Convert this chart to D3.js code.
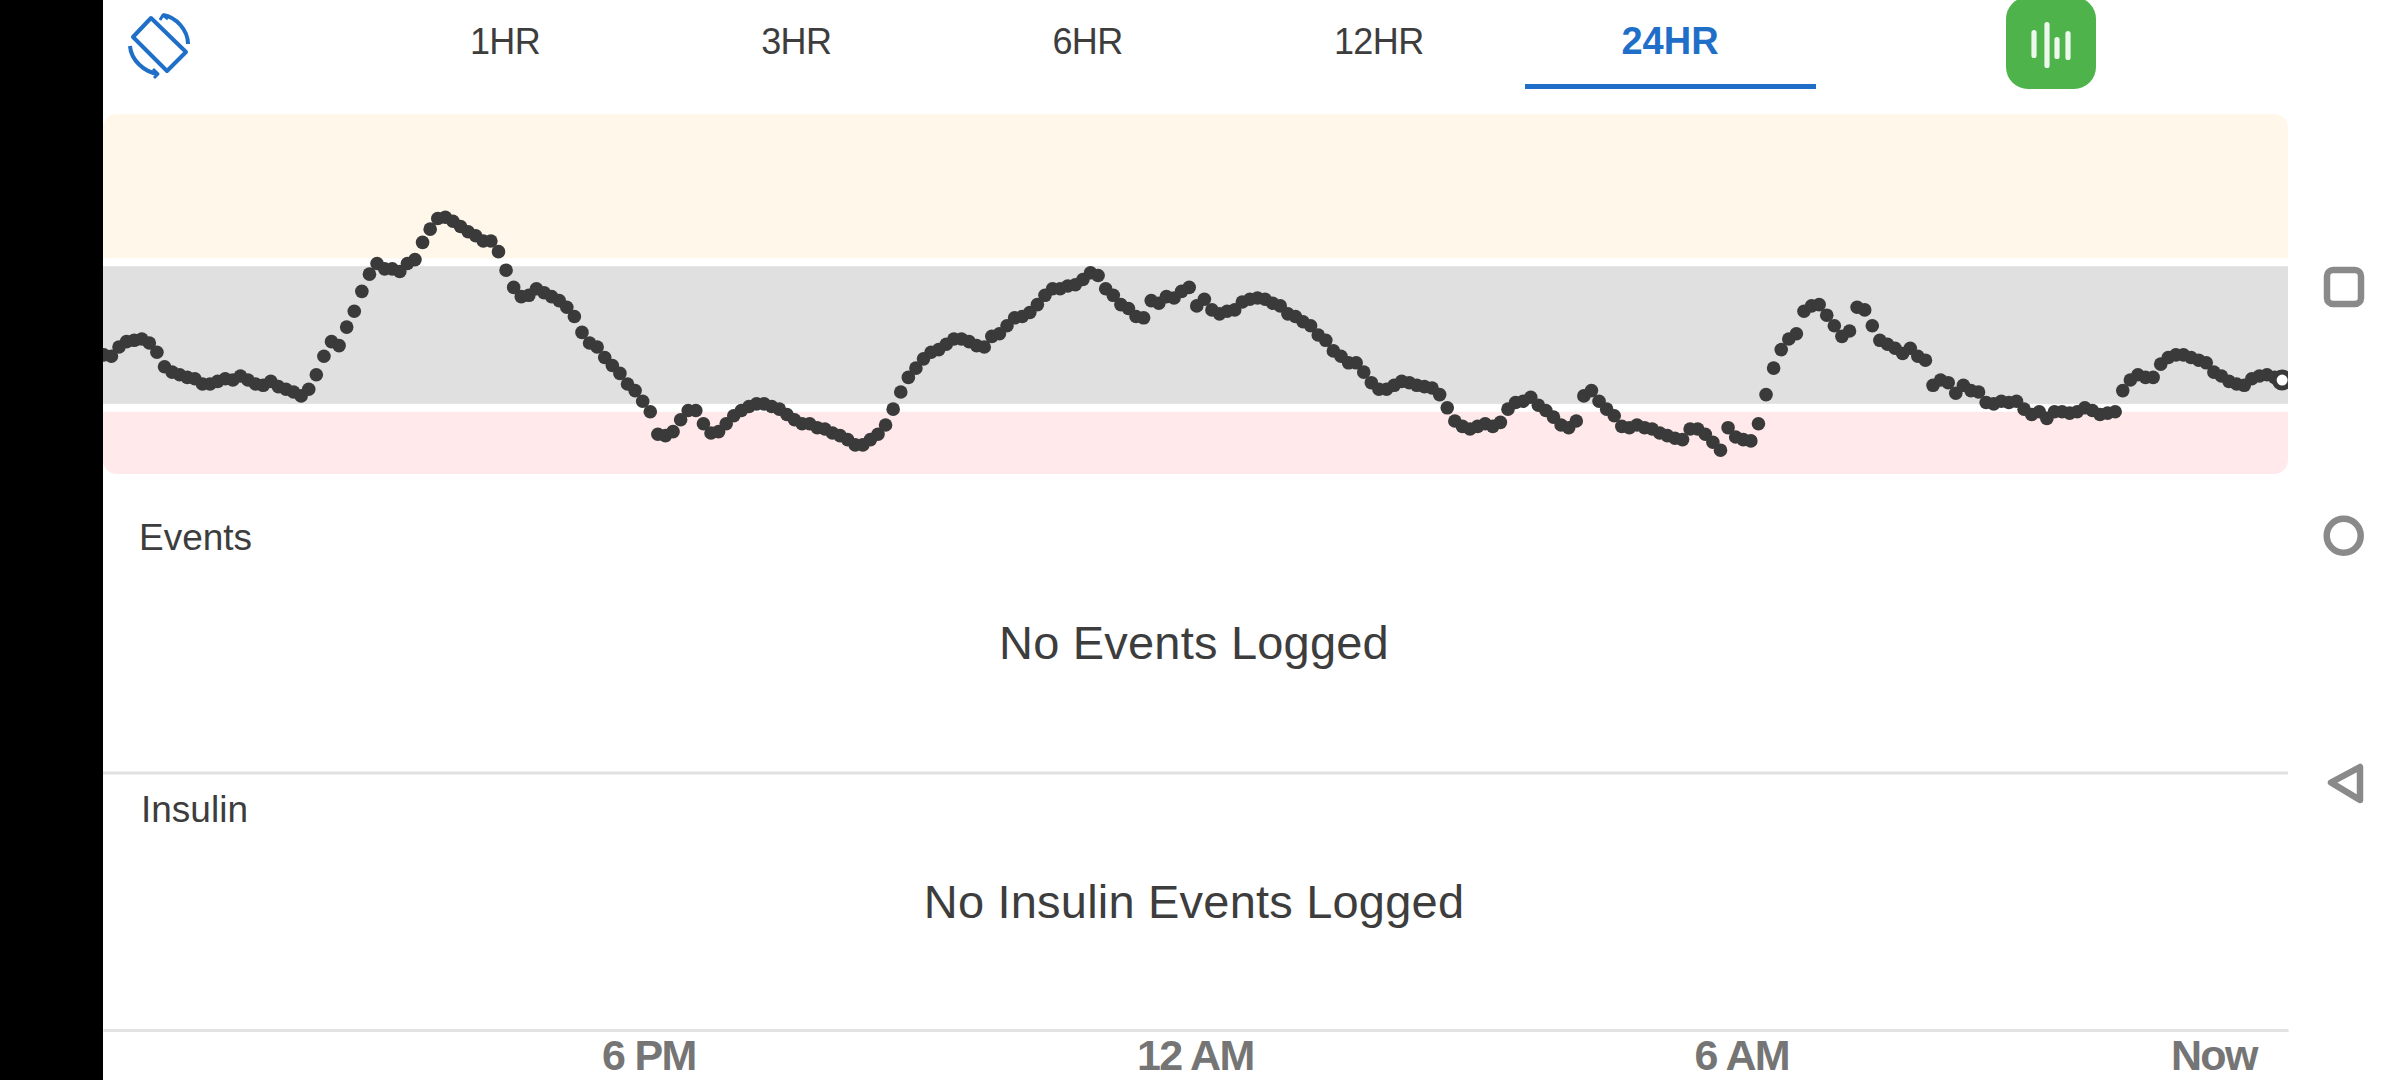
<!DOCTYPE html>
<html lang="en">
  <head>
    <meta charset="utf-8">
    <script src="https://cdn.jsdelivr.net/npm/d3@7"></script>
    <style>
      html, body { margin:0; padding:0; background:#fff; overflow:hidden; }
      text { font-family:"Liberation Sans", Arial, sans-serif; }
    </style>
  </head>
  <body>
    <svg class="chart"></svg>
  </body>
  <script>
    // one reading every 5 minutes, oldest first (mg/dL)
    var glucose = [
      110,109,116,120,121,122,119,112,101,97,95,93,92,88,88,90,92,91,94,91,88,87,90,86,
      84,82,79,84,95,109,120,117,131,143,158,171,179,175,175,173,179,182,195,205,213,214,211,207,
      203,200,196,196,188,174,161,154,155,160,157,154,151,146,139,127,119,116,108,102,96,88,83,75,
      67,50,49,52,61,68,68,58,51,52,58,64,68,71,73,73,71,69,65,61,58,58,55,54,
      51,49,46,42,42,46,50,57,69,82,93,100,107,112,114,118,122,122,120,117,116,124,126,132,
      138,139,142,148,155,160,160,162,163,167,172,170,160,155,148,145,139,138,151,149,154,153,158,161,
      147,152,144,141,143,144,150,152,153,152,149,147,141,139,135,132,125,121,113,109,104,104,97,89,
      84,84,87,90,89,87,86,85,80,70,60,56,54,56,58,56,59,69,74,75,78,72,68,63,
      57,55,60,79,83,75,69,64,56,55,57,55,54,51,49,47,46,54,54,50,44,38,55,48,
      46,45,58,80,100,114,122,126,143,147,148,140,132,124,128,146,144,132,121,118,115,111,115,109,
      106,87,91,89,81,87,83,82,74,73,75,74,75,69,65,67,62,67,67,66,67,70,68,65,
      66,67,83,91,95,93,93,103,108,110,110,108,106,104,97,94,90,88,87,92,94,95,93,91
    ];

    var tabLabels = ['1HR','3HR','6HR','12HR','24HR'];
    var activeTab = '24HR';
    var tickIndex = [72,144,216,287];
    var tickLabels = ['6 PM','12 AM','6 AM','Now'];
    var rangeBands = [[292,183,'#fff7e9'],[177,73,'#e0e0e0'],[67,20,'#ffe9ea']];
    var sections = [
      {title:'Events', empty:'No Events Logged'},
      {title:'Insulin', empty:'No Insulin Events Logged'}
    ];

    var dark = '#3d3d3d', blue = '#1f6fc8', gray = '#8a8a8a';
    var left = 103, right = 2288;

    var svg = d3.select('.chart')
                .attr('width',2400)
                .attr('height',1080)
                .style('display','block');

    var xScale = d3.scaleLinear()
                   .domain([-0.105,287.77])
                   .range([left,right]);

    var yScale = d3.scaleLinear()
                   .domain([20,292])
                   .range([474,114]);

    // black strip on the left of the screenshot
    svg.append('rect').attr('x',0).attr('y',0).attr('width',left).attr('height',1080).attr('fill','#000');

    // range bands, outer corners rounded
    var r = 14;
    svg.append('clipPath').attr('id','plotClip')
       .append('rect').attr('x',left).attr('y',yScale(292)).attr('width',right-left).attr('height',yScale(20)-yScale(292)).attr('rx',r);

    var plot = svg.append('g').attr('clip-path','url(#plotClip)');

    plot.selectAll('rect.band')
        .data(rangeBands)
        .enter()
        .append('rect')
        .classed('band',true)
        .attr('x',left)
        .attr('width',right-left)
        .attr('y',function(d){return yScale(d[0])})
        .attr('height',function(d){return yScale(d[1])-yScale(d[0])})
        .attr('fill',function(d){return d[2]});

    plot.selectAll('circle.reading')
        .data(glucose)
        .enter()
        .append('circle')
        .classed('reading',true)
        .attr('cx',function(d,i){return xScale(i)})
        .attr('cy',function(d){return yScale(d)})
        .attr('r',6.8)
        .attr('fill','#3a3a3a');

    // latest reading is a hollow dot
    plot.append('circle')
        .attr('cx',xScale(glucose.length-1))
        .attr('cy',yScale(glucose[glucose.length-1]))
        .attr('r',8)
        .attr('fill','#fff')
        .attr('stroke','#3a3a3a')
        .attr('stroke-width',5);

    // tabs
    var tabScale = d3.scalePoint().domain(tabLabels).range([505,1670]);

    svg.selectAll('text.tab')
       .data(tabLabels)
       .enter()
       .append('text')
       .classed('tab',true)
       .attr('x',function(d){return tabScale(d)})
       .attr('y',54)
       .attr('text-anchor','middle')
       .attr('font-size',function(d){return d==activeTab?38:36})
       .attr('font-weight',function(d){return d==activeTab?700:400})
       .attr('letter-spacing',function(d){return d==activeTab?0:-0.6})
       .attr('fill',function(d){return d==activeTab?blue:dark})
       .text(function(d){return d});

    svg.append('rect').attr('x',1525).attr('y',84).attr('width',291).attr('height',5).attr('fill',blue);

    // rotate icon
    var rotate = svg.append('g').attr('fill','none').attr('stroke',blue).attr('stroke-width',4).attr('stroke-linejoin','round');
    rotate.append('path').attr('d','M151 18 L186 52 L167 71 L133 37 Z');
    rotate.append('path').attr('d','M163 15 C176 17 188 30 188 44');
    rotate.append('path').attr('d','M130 46 C131 60 144 72 158 74');
    rotate.append('path').attr('d','M160 20 L163 15 L168 19').attr('stroke-width',3);
    rotate.append('path').attr('d','M153 69 L158 74 L154 78').attr('stroke-width',3);

    // green button
    svg.append('rect').attr('x',2006).attr('y',-3).attr('width',90).attr('height',92).attr('rx',22).attr('fill','#4db34a');
    var soundBars = [[2034,30,58],[2047,22,68],[2057,37,59],[2068,31,60]];
    svg.selectAll('rect.soundBar')
       .data(soundBars)
       .enter()
       .append('rect')
       .classed('soundBar',true)
       .attr('x',function(d){return d[0]-2.6})
       .attr('y',function(d){return d[1]})
       .attr('width',5.2)
       .attr('height',function(d){return d[2]-d[1]})
       .attr('rx',2.6)
       .attr('fill','#fff')
       .attr('fill-opacity',0.9);

    // events and insulin sections
    var sectionTop = [550,822];
    var sectionMid = [659,918];
    var sectionLeft = [139,141];

    svg.selectAll('text.sectionTitle')
       .data(sections)
       .enter()
       .append('text')
       .classed('sectionTitle',true)
       .attr('x',function(d,i){return sectionLeft[i]})
       .attr('y',function(d,i){return sectionTop[i]})
       .attr('font-size',37)
       .attr('fill',dark)
       .text(function(d){return d.title});

    svg.selectAll('text.sectionEmpty')
       .data(sections)
       .enter()
       .append('text')
       .classed('sectionEmpty',true)
       .attr('x',1194)
       .attr('y',function(d,i){return sectionMid[i]})
       .attr('text-anchor','middle')
       .attr('font-size',47)
       .attr('letter-spacing',0.2)
       .attr('fill',dark)
       .text(function(d){return d.empty});

    svg.append('line').attr('x1',left).attr('x2',right).attr('y1',773).attr('y2',773).attr('stroke','#e0e0e0').attr('stroke-width',3);

    // time axis
    var xAxis = d3.axisBottom(xScale)
                  .tickValues(tickIndex)
                  .tickSize(0)
                  .tickFormat(function(d,i){return tickLabels[i]});

    var axis = svg.append('g').classed('xAxis',true)
                  .attr('transform','translate(0,1030)')
                  .call(xAxis);

    axis.select('.domain').attr('stroke','#e2e2e2').attr('stroke-width',3);
    axis.selectAll('text')
        .attr('font-family','Inter')
        .attr('font-size',43)
        .attr('font-weight',700)
        .attr('letter-spacing',-1.7)
        .attr('fill','#757575')
        .attr('y',40)
        .attr('dy',0)
        .attr('dx',-2);
    axis.selectAll('.tick').filter(function(d){return d==287}).select('text')
        .attr('text-anchor','end')
        .attr('dx',-26);

    // phone navigation buttons
    var nav = svg.append('g').attr('fill','none').attr('stroke',gray).attr('stroke-width',6.5).attr('stroke-linejoin','round');
    nav.append('rect').attr('x',2327).attr('y',270).attr('width',34).attr('height',34).attr('rx',6);
    nav.append('circle').attr('cx',2343.7).attr('cy',535.7).attr('r',17);
    nav.append('path').attr('d','M2331 782.5 L2360 767 L2360 800 Z');
  </script>
</html>
